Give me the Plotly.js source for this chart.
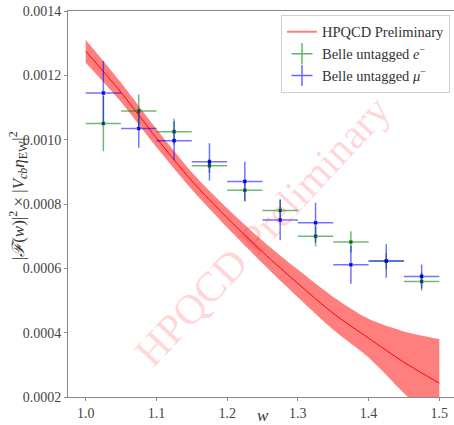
<!DOCTYPE html>
<html>
<head>
<meta charset="utf-8">
<script src="https://cdn.plot.ly/plotly-3.0.1.min.js"></script>
<style>
html, body { margin: 0; padding: 0; overflow: hidden; background: #fff; }
#chart { width: 458px; height: 425px; }
</style>
</head>
<body>
<div id="chart"></div>
<script>
// HPQCD band: w grid, central value, 1-sigma half width
const bandW      = [1.00, 1.05, 1.10, 1.15, 1.20, 1.25, 1.30, 1.35, 1.40, 1.45, 1.50];
const bandCenter = [0.001275, 0.001147, 0.001005, 0.000872, 0.000757, 0.000651, 0.000553, 0.000460, 0.000383, 0.000308, 0.000243];
const bandErr    = [0.000036, 0.000030, 0.000028, 0.000027, 0.000030, 0.000035, 0.000043, 0.000051, 0.000060, 0.000096, 0.000137];

// Belle untagged data (bin centres, half bin width)
const binW     = [1.025, 1.075, 1.125, 1.175, 1.225, 1.275, 1.325, 1.375, 1.425, 1.475];
const binHalf  = [0.025, 0.025, 0.025, 0.025, 0.025, 0.025, 0.025, 0.025, 0.025, 0.025];
const eVals    = [0.001050, 0.001089, 0.001025, 0.000919, 0.000843, 0.000780, 0.000700, 0.000682, 0.000623, 0.000559];
const eErrs    = [0.000086, 0.000052, 0.000041, 0.000022, 0.000035, 0.000035, 0.000032, 0.000033, 0.000025, 0.000028];
const muVals   = [0.001145, 0.001035, 0.000997, 0.000931, 0.000870, 0.000750, 0.000742, 0.000611, 0.000623, 0.000575];
const muErrs   = [0.000100, 0.000060, 0.000060, 0.000058, 0.000061, 0.000063, 0.000062, 0.000059, 0.000052, 0.000037];

const xTicks = [1.0, 1.1, 1.2, 1.3, 1.4, 1.5];
const yTicks = [0.0002, 0.0004, 0.0006, 0.0008, 0.0010, 0.0012, 0.0014];

const bandLow = bandCenter.map((c, i) => c - bandErr[i]);
const bandHigh = bandCenter.map((c, i) => c + bandErr[i]);

const serif = "Liberation Serif";
const textCol = "#333";

const traces = [
  { x: bandW, y: bandLow, mode: "lines", line: { width: 0, shape: "spline", smoothing: 0.8, color: "rgba(0,0,0,0)" }, showlegend: false, hoverinfo: "skip" },
  { x: bandW, y: bandHigh, mode: "lines", line: { width: 0, shape: "spline", smoothing: 0.8, color: "rgba(0,0,0,0)" }, fill: "tonexty", fillcolor: "rgba(255,0,0,0.5)", showlegend: false, hoverinfo: "skip" },
  { x: bandW, y: bandCenter, mode: "lines", line: { width: 1, shape: "spline", smoothing: 0.8, color: "rgb(255,0,0)" }, showlegend: false },
  { x: binW, y: eVals, mode: "markers", showlegend: false,
    marker: { symbol: "x-thin", size: 3, line: { width: 1.5, color: "rgb(0,110,0)" }, color: "rgb(0,110,0)" },
    error_y: { type: "data", array: eErrs, visible: true, color: "rgba(0,128,0,0.55)", thickness: 1.5, width: 0 },
    error_x: { type: "data", array: binHalf, visible: true, color: "rgba(0,128,0,0.55)", thickness: 1.5, width: 0 } },
  { x: binW, y: muVals, mode: "markers", showlegend: false,
    marker: { symbol: "x-thin", size: 3, line: { width: 1.5, color: "rgb(0,0,210)" }, color: "rgb(0,0,210)" },
    error_y: { type: "data", array: muErrs, visible: true, color: "rgba(0,0,255,0.55)", thickness: 1.5, width: 0 },
    error_x: { type: "data", array: binHalf, visible: true, color: "rgba(0,0,255,0.55)", thickness: 1.5, width: 0 } },
  // legend entries
  { x: [null], y: [null], mode: "lines", name: "HPQCD Preliminary", line: { color: "rgba(255,0,0,0.5)", width: 2 } },
  { x: [null], y: [null], mode: "markers", name: "Belle untagged <i>e</i><sup>−</sup>",
    marker: { symbol: "cross-thin", size: 15, line: { width: 1.5, color: "rgba(0,128,0,0.6)" } } },
  { x: [null], y: [null], mode: "markers", name: "Belle untagged <i>μ</i><sup>−</sup>",
    marker: { symbol: "cross-thin", size: 15, line: { width: 1.5, color: "rgba(0,0,255,0.6)" } } }
];

const layout = {
  width: 458, height: 425,
  margin: { l: 68, r: 1, t: 11, b: 28 },
  paper_bgcolor: "#fff", plot_bgcolor: "#fff",
  font: { family: serif, color: textCol, size: 14 },
  showlegend: true,
  legend: {
    traceorder: "normal",
    x: 0.982, xanchor: "right", y: 0.99, yanchor: "top",
    bgcolor: "#fff", bordercolor: "#d0d0d0", borderwidth: 1,
    font: { family: serif, size: 14.5, color: textCol }
  },
  xaxis: {
    range: [0.975, 1.525], tickvals: xTicks, ticktext: xTicks.map(v => v.toFixed(1)),
    showgrid: false, zeroline: false, showline: true, linecolor: "#888", linewidth: 1, mirror: true,
    ticks: "outside", ticklen: 3, tickcolor: "#888",
    tickfont: { family: serif, size: 14, color: "#444" }
  },
  yaxis: {
    range: [0.0002, 0.0014], tickvals: yTicks, ticktext: yTicks.map(v => v.toFixed(4)),
    showgrid: false, zeroline: false, showline: true, linecolor: "#888", linewidth: 1, mirror: true,
    ticks: "outside", ticklen: 3, tickcolor: "#888",
    tickfont: { family: serif, size: 14, color: "#444" }
  },
  annotations: [
    { text: "HPQCD Preliminary", xref: "paper", yref: "paper", x: 0.5, y: 0.43,
      xanchor: "center", yanchor: "middle", showarrow: false, textangle: -47,
      font: { family: serif, size: 42, color: "rgba(255,0,0,0.17)" } },
    { text: "<i>w</i>", xref: "paper", yref: "paper", x: 0.5, y: 0, yshift: -18,
      xanchor: "center", yanchor: "middle", showarrow: false,
      font: { family: serif, size: 17, color: textCol } },
    { text: "|<i>ℱ</i>(<i>w</i>)|<sup>2</sup> × |<i>V<sub>cb</sub>η</i><sub>EW</sub>|<sup>2</sup>",
      xref: "paper", yref: "paper", x: 0, xshift: -50, y: 0.52,
      xanchor: "center", yanchor: "middle", showarrow: false, textangle: -90,
      font: { family: serif, size: 17, color: textCol } }
  ]
};

Plotly.newPlot("chart", traces, layout, { displayModeBar: false, staticPlot: true });
</script>
</body>
</html>
